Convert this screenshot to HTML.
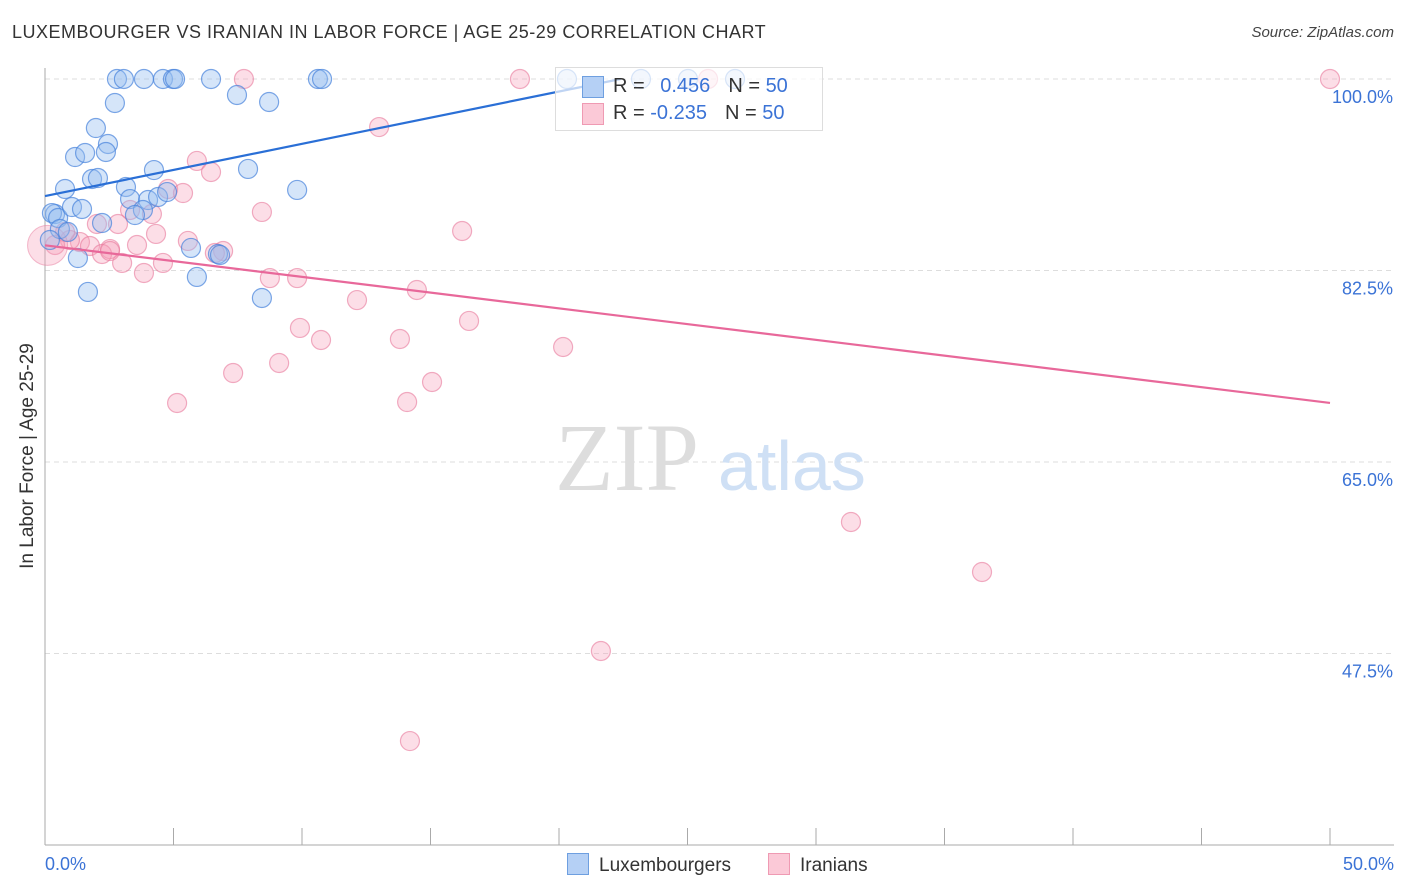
<!DOCTYPE html>
<html><head><meta charset="utf-8"><style>
body{margin:0;background:#fff;font-family:"Liberation Sans",sans-serif;}
#wrap{position:relative;width:1406px;height:892px;overflow:hidden;}
.t{position:absolute;white-space:nowrap;}
</style></head><body>
<div id="wrap">
<div class="t" style="left:12px;top:22px;font-size:18px;color:#333;letter-spacing:0.5px">LUXEMBOURGER VS IRANIAN IN LABOR FORCE | AGE 25-29 CORRELATION CHART</div>
<div class="t" style="right:12px;top:24px;font-size:15px;color:#444;font-style:italic">Source: ZipAtlas.com</div>
<div class="t" style="left:-92px;top:445px;font-size:19px;color:#333;transform:rotate(-90deg);width:240px;text-align:center">In Labor Force | Age 25-29</div>
<svg id="svg" width="1406" height="892" style="position:absolute;left:0;top:0"></svg>
</div>
<script>
const xTicks=[0,5,10,15,20,25,30,35,40,45,50];
const yTicks=[100,82.5,65,47.5];
const yTickLabels=["100.0%","82.5%","65.0%","47.5%"];
const bluePx=[[117,79],[124,79],[144,79],[163,79],[173,79],[175,79],[211,79],[318,79],[322,79],[567,79],[641,79],[688,79],[735,79],[115,103],[237,95],[269,102],[96,128],[108,144],[75,157],[85,153],[106,152],[92,179],[98,178],[65,189],[126,187],[154,170],[248,169],[297,190],[130,199],[148,200],[158,197],[167,192],[143,210],[135,215],[55,214],[52,213],[58,218],[72,207],[82,209],[102,223],[60,229],[68,232],[50,240],[191,248],[218,254],[197,277],[78,258],[88,292],[262,298],[220,255]];
const pinkPx=[[244,79],[520,79],[708,79],[1330,79],[379,127],[197,161],[211,172],[168,189],[183,193],[262,212],[130,210],[152,214],[97,224],[118,224],[462,231],[156,234],[188,241],[223,251],[215,253],[137,245],[110,249],[80,242],[70,240],[55,245],[90,246],[102,254],[122,263],[163,263],[144,273],[270,278],[297,278],[417,290],[357,300],[469,321],[300,328],[321,340],[400,339],[563,347],[279,363],[233,373],[432,382],[177,403],[407,402],[851,522],[982,572],[601,651],[410,741],[65,232],[110,251]];
const blueX=bluePx.map(p=>+((p[0]-45)/1285*50).toFixed(2));
const blueY=bluePx.map(p=>+(100-(p[1]-79)/191.5*17.5).toFixed(2));
const pinkX=pinkPx.map(p=>+((p[0]-45)/1285*50).toFixed(2));
const pinkY=pinkPx.map(p=>+(100-(p[1]-79)/191.5*17.5).toFixed(2));
const blueTrend=[[0,89.3],[22.4,100]];
const pinkTrend=[[0,84.8],[50,70.4]];
const X=v=>45+v/50*1285, Y=v=>79+(100-v)/17.5*191.5;
const svg=document.getElementById('svg');const NS='http://www.w3.org/2000/svg';
function mk(tag,a,parent){const e=document.createElementNS(NS,tag);for(const k in a)e.setAttribute(k,a[k]);(parent||svg).appendChild(e);return e;}
yTicks.forEach((v,i)=>{
 const g=mk('line',{x1:45,x2:1394,y1:Y(v),y2:Y(v),stroke:'#ddd','stroke-dasharray':'5,4'});
 
 
 const t=mk('text',{x:1393,y:Y(v)+24,'text-anchor':'end','font-size':18,fill:'#3b73d6','font-family':'Liberation Sans, sans-serif'});
 t.textContent=yTickLabels[i];
 
 
});
const ax=mk('line',{x1:45,x2:45,y1:68,y2:845,stroke:'#aaa'});


const bx=mk('line',{x1:45,x2:1394,y1:845,y2:845,stroke:'#aaa'});


xTicks.forEach(v=>{const l=mk('line',{x1:X(v),x2:X(v),y1:828,y2:845,stroke:'#aaa'});
 
 });
[[0,'0.0%','start',45],[50,'50.0%','end',1394]].forEach(d=>{const t=mk('text',{x:d[3],y:870,'text-anchor':d[2],'font-size':18,fill:'#3b73d6','font-family':'Liberation Sans, sans-serif'});t.textContent=d[1];
 
 });
const wm=mk('text',{x:555,y:490,'font-size':96,fill:'#ddd','font-family':'Liberation Serif, serif'});wm.textContent='ZIP';


const wm2=mk('text',{x:718,y:490,'font-size':70,fill:'#cfe0f5','font-family':'Liberation Sans, sans-serif'});wm2.textContent='atlas';


pinkX.forEach((x,i)=>{const c=mk('circle',{cx:X(x),cy:Y(pinkY[i]),r:9.5,fill:'rgba(247,160,185,0.35)',stroke:'rgba(232,120,155,0.6)','stroke-width':1.2});
 
 });
const big=mk('circle',{cx:X(0.1),cy:Y(84.8),r:20,fill:'rgba(247,160,185,0.35)',stroke:'rgba(232,120,155,0.5)'});


blueX.forEach((x,i)=>{const c=mk('circle',{cx:X(x),cy:Y(blueY[i]),r:9.5,fill:'rgba(150,190,240,0.4)',stroke:'rgba(70,130,220,0.7)','stroke-width':1.2});
 
 });
const bl=mk('line',{x1:X(blueTrend[0][0]),y1:Y(blueTrend[0][1]),x2:X(blueTrend[1][0]),y2:Y(blueTrend[1][1]),stroke:'#2a6fd6','stroke-width':2.2});


const pl=mk('line',{x1:X(pinkTrend[0][0]),y1:Y(pinkTrend[0][1]),x2:X(pinkTrend[1][0]),y2:Y(pinkTrend[1][1]),stroke:'#e8689a','stroke-width':2.2});


</script>
<div class="t" style="left:555px;top:67px;width:266px;height:62px;border:1px solid #ddd;background:rgba(255,255,255,0.7);font-size:20px;color:#333">
 <div style="position:absolute;left:26px;top:8px;width:20px;height:20px;background:#b5d0f5;border:1px solid #6e9fe0"></div>
 <div class="t" style="left:57px;top:7px">R = <span style="color:#3b73d6;margin-left:10px">0.456</span><span style="margin-left:18px">N =</span> <span style="color:#3b73d6">50</span></div>
 <div style="position:absolute;left:26px;top:35px;width:20px;height:20px;background:#fbc9d7;border:1px solid #ef9ab3"></div>
 <div class="t" style="left:57px;top:34px">R = <span style="color:#3b73d6">-0.235</span><span style="margin-left:18px">N =</span> <span style="color:#3b73d6">50</span></div>
</div>
<div class="t" style="left:567px;top:853px;font-size:19px;color:#333"><span style="display:inline-block;width:20px;height:20px;background:#b5d0f5;border:1px solid #6e9fe0;vertical-align:-4px;margin-right:10px"></span>Luxembourgers</div>
<div class="t" style="left:768px;top:853px;font-size:19px;color:#333"><span style="display:inline-block;width:20px;height:20px;background:#fbc9d7;border:1px solid #ef9ab3;vertical-align:-4px;margin-right:10px"></span>Iranians</div>
</body></html>
